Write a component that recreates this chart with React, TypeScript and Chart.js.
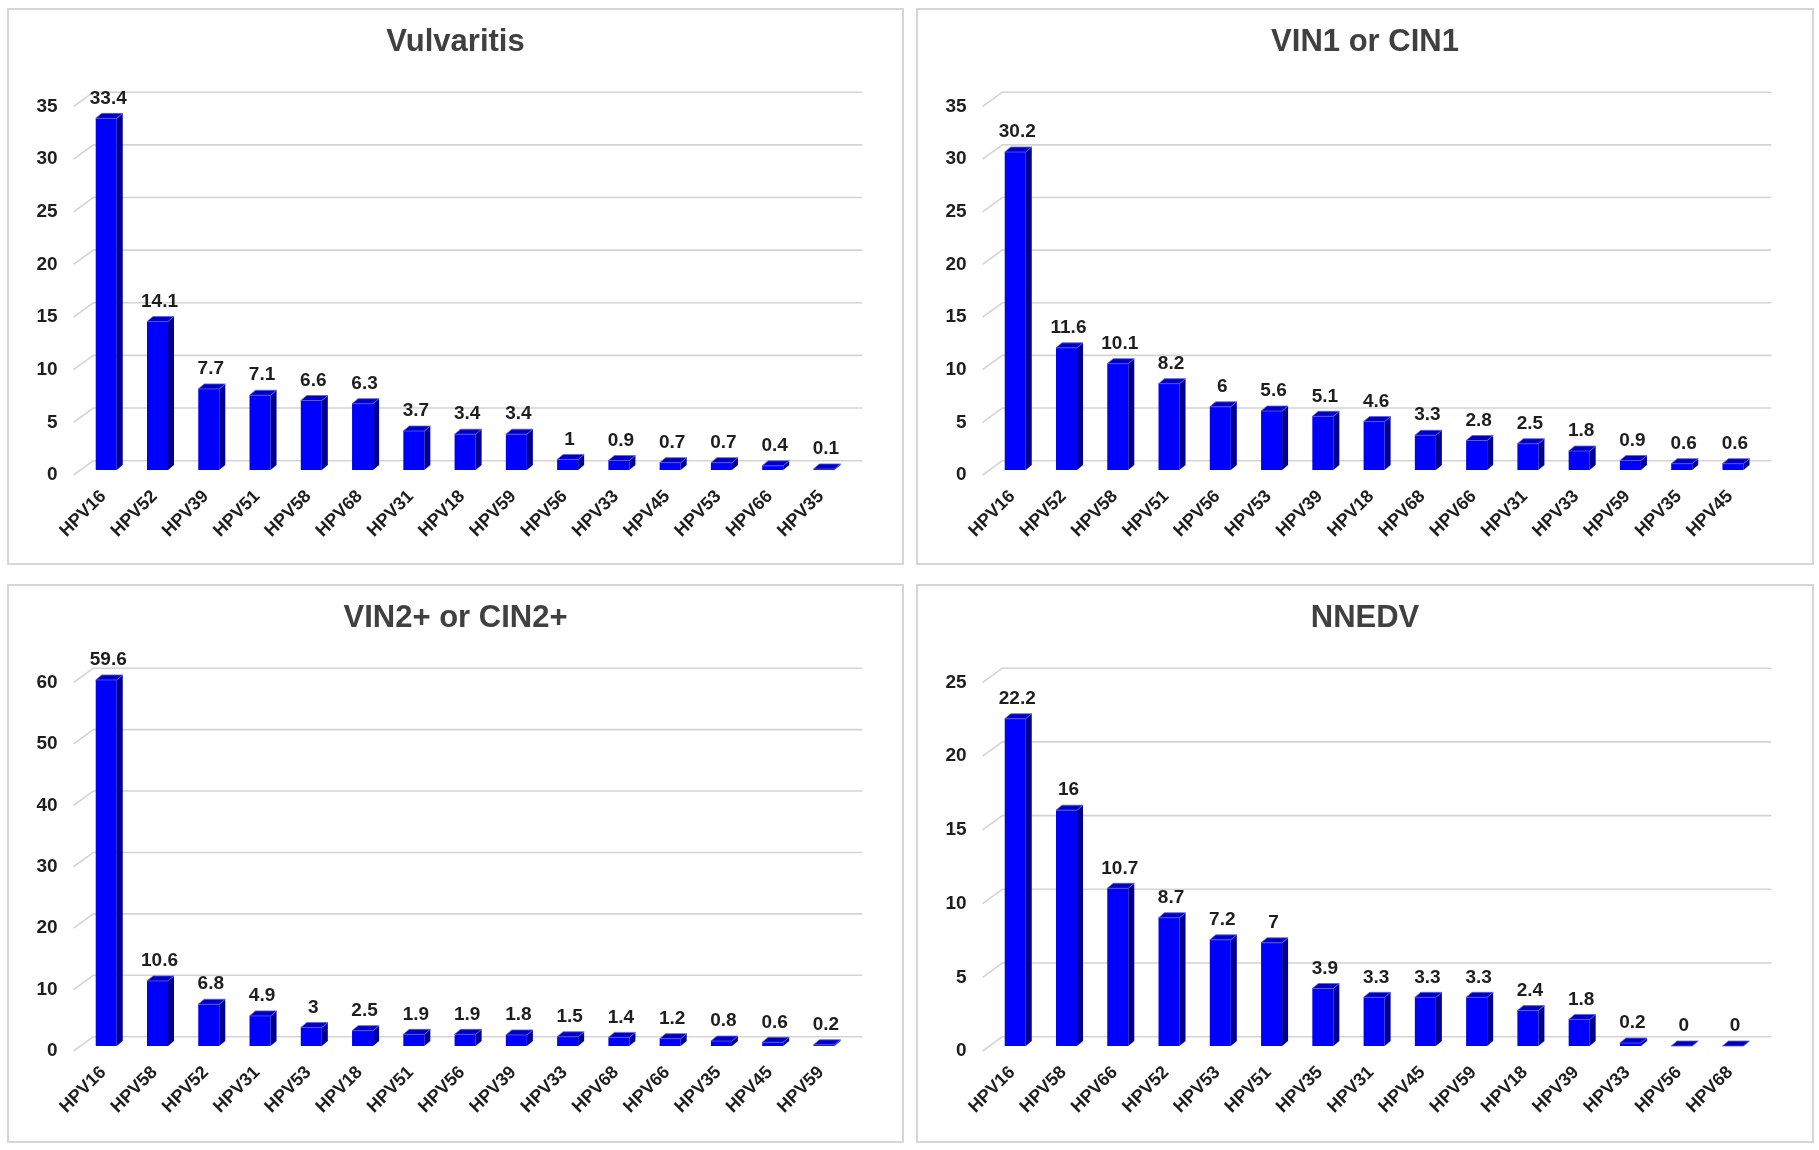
import React, { useEffect, useRef } from 'react';
import { Chart, registerables } from 'chart.js';

Chart.register(...registerables);

// ---------- data ----------
const vulvaritisTitle = 'Vulvaritis';
const vulvaritisLabels = ['HPV16', 'HPV52', 'HPV39', 'HPV51', 'HPV58', 'HPV68', 'HPV31', 'HPV18', 'HPV59', 'HPV56', 'HPV33', 'HPV45', 'HPV53', 'HPV66', 'HPV35'];
const vulvaritisValues = [33.4, 14.1, 7.7, 7.1, 6.6, 6.3, 3.7, 3.4, 3.4, 1, 0.9, 0.7, 0.7, 0.4, 0.1];
const vulvaritisAxis = [0, 35, 5]; // min, max, step

const cin1Title = 'VIN1 or CIN1';
const cin1Labels = ['HPV16', 'HPV52', 'HPV58', 'HPV51', 'HPV56', 'HPV53', 'HPV39', 'HPV18', 'HPV68', 'HPV66', 'HPV31', 'HPV33', 'HPV59', 'HPV35', 'HPV45'];
const cin1Values = [30.2, 11.6, 10.1, 8.2, 6, 5.6, 5.1, 4.6, 3.3, 2.8, 2.5, 1.8, 0.9, 0.6, 0.6];
const cin1Axis = [0, 35, 5];

const cin2Title = 'VIN2+ or CIN2+';
const cin2Labels = ['HPV16', 'HPV58', 'HPV52', 'HPV31', 'HPV53', 'HPV18', 'HPV51', 'HPV56', 'HPV39', 'HPV33', 'HPV68', 'HPV66', 'HPV35', 'HPV45', 'HPV59'];
const cin2Values = [59.6, 10.6, 6.8, 4.9, 3, 2.5, 1.9, 1.9, 1.8, 1.5, 1.4, 1.2, 0.8, 0.6, 0.2];
const cin2Axis = [0, 60, 10];

const nnedvTitle = 'NNEDV';
const nnedvLabels = ['HPV16', 'HPV58', 'HPV66', 'HPV52', 'HPV53', 'HPV51', 'HPV35', 'HPV31', 'HPV45', 'HPV59', 'HPV18', 'HPV39', 'HPV33', 'HPV56', 'HPV68'];
const nnedvValues = [22.2, 16, 10.7, 8.7, 7.2, 7, 3.9, 3.3, 3.3, 3.3, 2.4, 1.8, 0.2, 0, 0];
const nnedvAxis = [0, 25, 5];

// ---------- style / layout ----------
const FONT = "'Liberation Sans', Arial, Helvetica, sans-serif";
const BORDER = 2;
const TITLE_Y = 32;
const PLOT_TOP = 91.5;
const PLOT_BOTTOM = 460;
const PLOT_LEFT = 71.6;
const PLOT_RIGHT = 840.6;

const BAR_DX = 6;
const BAR_DY = 5;
const WALL_FRONT_DX = -7;
const WALL_FRONT_DY = 5;
const WALL_BACK_DX = 12.7;
const WALL_BACK_DY = -9.3;

const threeD = {
  id: 'threeD',
  beforeDatasetsDraw(chart: any) {
    const { ctx, chartArea } = chart;
    const y = chart.scales.y;
    ctx.save();
    ctx.strokeStyle = '#d4d4d4';
    ctx.lineWidth = 1.6;
    y.ticks.forEach((t: any) => {
      const py = y.getPixelForValue(t.value);
      ctx.beginPath();
      ctx.moveTo(chartArea.left + WALL_FRONT_DX, py + WALL_FRONT_DY);
      ctx.lineTo(chartArea.left + WALL_BACK_DX, py + WALL_BACK_DY);
      ctx.lineTo(chartArea.right + WALL_BACK_DX, py + WALL_BACK_DY);
      ctx.stroke();
    });
    ctx.restore();
  },
  afterDatasetsDraw(chart: any) {
    const { ctx } = chart;
    const meta = chart.getDatasetMeta(0);
    const data = chart.data.datasets[0].data as number[];
    ctx.save();
    meta.data.forEach((bar: any, i: number) => {
      const { x, y, base, width } = bar.getProps(['x', 'y', 'base', 'width'], true);
      const l = x - width / 2;
      const r = x + width / 2;
      // side face
      ctx.fillStyle = '#00008c';
      ctx.beginPath();
      ctx.moveTo(r, y);
      ctx.lineTo(r + BAR_DX, y - BAR_DY);
      ctx.lineTo(r + BAR_DX, base - BAR_DY);
      ctx.lineTo(r, base);
      ctx.closePath();
      ctx.fill();
      // top face
      ctx.fillStyle = '#0000c4';
      ctx.beginPath();
      ctx.moveTo(l, y);
      ctx.lineTo(l + BAR_DX, y - BAR_DY);
      ctx.lineTo(r + BAR_DX, y - BAR_DY);
      ctx.lineTo(r, y);
      ctx.closePath();
      ctx.fill();
      ctx.strokeStyle = '#5a5aff';
      ctx.lineWidth = 0.8;
      ctx.stroke();
      // value label
      ctx.fillStyle = '#1e1e1e';
      ctx.font = `bold 19px ${FONT}`;
      ctx.textAlign = 'center';
      ctx.textBaseline = 'middle';
      ctx.fillText(String(data[i]), x + 2, y - 20);
    });
    ctx.restore();
  },
  afterDraw(chart: any) {
    const { ctx } = chart;
    const title = chart.options.plugins.panelTitle.text;
    ctx.save();
    ctx.fillStyle = '#404040';
    ctx.font = `bold 31px ${FONT}`;
    ctx.textAlign = 'center';
    ctx.textBaseline = 'middle';
    ctx.fillText(title, chart.width / 2, TITLE_Y);
    ctx.restore();
  },
};

type PanelProps = {
  title: string;
  labels: string[];
  values: number[];
  axis: number[];
  w: number;
  h: number;
};

function BarPanel({ title, labels, values, axis, w, h }: PanelProps) {
  const ref = useRef<HTMLCanvasElement>(null);
  useEffect(() => {
    const canvas = ref.current as HTMLCanvasElement;
    const xFont = { family: FONT, size: 18, weight: 'bold' as const };
    const yFont = { family: FONT, size: 19, weight: 'bold' as const };
    const chart = new Chart(canvas, {
      type: 'bar',
      data: {
        labels,
        datasets: [
          {
            data: values,
            backgroundColor: '#0000ff',
            borderWidth: 0,
            barPercentage: 0.41,
            categoryPercentage: 1,
          },
        ],
      },
      options: {
        animation: false,
        responsive: false,
        layout: { padding: { left: 0, right: w - PLOT_RIGHT, top: PLOT_TOP, bottom: 0 } },
        plugins: {
          legend: { display: false },
          tooltip: { enabled: false },
          title: { display: false },
          panelTitle: { text: title },
        } as any,
        scales: {
          x: {
            grid: { display: false, drawTicks: false },
            border: { display: false },
            ticks: {
              autoSkip: false,
              maxRotation: 45,
              minRotation: 45,
              padding: 16,
              labelOffset: -3,
              color: '#1e1e1e',
              font: xFont,
            },
            afterFit: (s: any) => {
              s.height = h - PLOT_BOTTOM;
            },
          },
          y: {
            min: axis[0],
            max: axis[1],
            grid: { display: false, drawTicks: false },
            border: { display: false },
            ticks: {
              stepSize: axis[2],
              padding: 23,
              labelOffset: 5,
              color: '#1e1e1e',
              font: yFont,
            },
            afterFit: (s: any) => {
              s.width = PLOT_LEFT;
            },
          },
        },
      },
      plugins: [threeD],
    });
    return () => chart.destroy();
  }, []);
  return <canvas ref={ref} width={w} height={h} style={{ display: 'block', width: w, height: h }} />;
}

const panelBoxes = [
  { left: 7, top: 8, width: 897, height: 557 },
  { left: 916, top: 8, width: 898, height: 557 },
  { left: 7, top: 584, width: 897, height: 559 },
  { left: 916, top: 584, width: 898, height: 559 },
];

export default function App() {
  const panels = [
    { title: vulvaritisTitle, labels: vulvaritisLabels, values: vulvaritisValues, axis: vulvaritisAxis },
    { title: cin1Title, labels: cin1Labels, values: cin1Values, axis: cin1Axis },
    { title: cin2Title, labels: cin2Labels, values: cin2Values, axis: cin2Axis },
    { title: nnedvTitle, labels: nnedvLabels, values: nnedvValues, axis: nnedvAxis },
  ];
  return (
    <div style={{ position: 'absolute', left: 0, top: 0, width: 1819, height: 1150, background: '#ffffff', overflow: 'hidden' }}>
      {panels.map((p, i) => {
        const b = panelBoxes[i];
        return (
          <div
            key={i}
            style={{
              position: 'absolute',
              left: b.left,
              top: b.top,
              width: b.width,
              height: b.height,
              boxSizing: 'border-box',
              border: `${BORDER}px solid #d6d6d6`,
              background: '#ffffff',
            }}
          >
            <BarPanel {...p} w={b.width - 2 * BORDER} h={b.height - 2 * BORDER} />
          </div>
        );
      })}
    </div>
  );
}
